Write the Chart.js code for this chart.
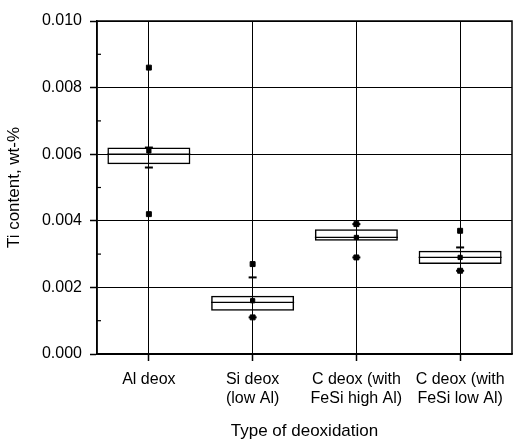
<!DOCTYPE html>
<html>
<head>
<meta charset="utf-8">
<script src="https://cdn.jsdelivr.net/npm/chart.js@4"></script>
<style>
  html, body { margin: 0; padding: 0; background: #fff; }
  #wrap { width: 516px; height: 443px; }
</style>
</head>
<body>
<div id="wrap"><canvas id="box_chart"></canvas></div>
<script>
const labels = ['Al deox', ['Si deox', '(low Al)'], ['C deox (with', 'FeSi high Al)'], ['C deox (with', 'FeSi low Al)']];
const q1 = [0.0057, 0.0013, 0.0034, 0.0027];
const q3 = [0.0062, 0.00175, 0.00375, 0.0031];
const median = [0.0060, 0.00155, 0.0035, 0.0029];
const mean = [0.0061, 0.0016, 0.0035, 0.0029];
const whiskerHigh = [0.0062, 0.0023, 0.0039, 0.0032];
const whiskerLow = [0.0056, 0.0011, 0.0029, 0.0025];
const maxVal = [0.0086, 0.0027, 0.0039, 0.0037];
const minVal = [0.0042, 0.0011, 0.0029, 0.0025];
const yTicks = [0, 0.002, 0.004, 0.006, 0.008, 0.010];
const yMinorTicks = [0.001, 0.003, 0.005, 0.007, 0.009];

Chart.defaults.font.family = "'Liberation Sans', Arial, sans-serif";
Chart.defaults.color = '#000';

const ctx = document.getElementById('box_chart');

// frame round the plot and the short inward minor ticks on the y axis
const framePlugin = {
    id: 'frame',
    afterDraw(chart) {
        const c = chart.ctx;
        const a = chart.chartArea;
        const y = chart.scales.y;
        c.save();
        c.strokeStyle = '#000';
        c.lineWidth = 1.5;
        c.strokeRect(a.left, a.top, a.right - a.left, a.bottom - a.top);
        c.lineWidth = 1.2;
        yMinorTicks.forEach(v => {
            const py = y.getPixelForValue(v);
            c.beginPath();
            c.moveTo(a.left, py);
            c.lineTo(a.left + 4, py);
            c.stroke();
        });
        c.restore();
    }
};

const pointSet = (label, values, style, radius, width) => ({
    type: 'line',
    label: label,
    data: values,
    showLine: false,
    pointStyle: style,
    pointRadius: radius,
    pointHoverRadius: radius,
    pointBackgroundColor: '#000',
    pointBorderColor: '#000',
    pointBorderWidth: width
});

const data = {
    labels: labels,
    datasets: [
        {
            type: 'bar',
            label: 'Box',
            data: q1.map((v, i) => [v, q3[i]]),
            backgroundColor: 'rgba(255,255,255,0)',
            borderColor: '#000',
            borderWidth: 1.5,
            borderSkipped: false,
            barPercentage: 0.8,
            categoryPercentage: 1.0
        },
        pointSet('Median', median, 'line', 41.5, 1.2),
        pointSet('Mean', mean, 'rect', 3, 1),
        pointSet('Upper whisker', whiskerHigh, 'line', 4, 2),
        pointSet('Lower whisker', whiskerLow, 'line', 4, 2),
        pointSet('Max', maxVal, 'rect', 3.5, 1),
        pointSet('Min', minVal, 'rect', 3.5, 1)
    ]
};

const config = {
    type: 'bar',
    data: data,
    plugins: [framePlugin],
    options: {
        responsive: true,
        maintainAspectRatio: false,
        animation: false,
        layout: { autoPadding: false, padding: { top: 21, right: 4, left: 0, bottom: 0 } },
        plugins: {
            legend: { display: false },
            tooltip: { enabled: false }
        },
        scales: {
            x: {
                offset: true,
                grid: {
                    offset: false,
                    color: '#000',
                    lineWidth: 1,
                    tickLength: 7,
                    tickWidth: 1.5
                },
                border: { color: '#000', width: 1.5 },
                ticks: {
                    font: { size: 16 },
                    padding: 9,
                    maxRotation: 0,
                    autoSkip: false
                },
                title: {
                    display: true,
                    text: 'Type of deoxidation',
                    font: { size: 17 },
                    padding: { top: 0, bottom: 1 }
                },
                afterFit(scale) { scale.height = 89; }
            },
            y: {
                min: 0,
                max: 0.010,
                afterBuildTicks(scale) { scale.ticks = yTicks.map(v => ({ value: v })); },
                grid: {
                    color: '#000',
                    lineWidth: 1,
                    tickLength: 7,
                    tickWidth: 1.5
                },
                border: { color: '#000', width: 1.5 },
                ticks: {
                    font: { size: 16 },
                    padding: 8,
                    callback: v => v.toFixed(3)
                },
                title: {
                    display: true,
                    text: 'Ti content, wt-%',
                    font: { size: 17 },
                    padding: { top: 4, bottom: 0 }
                },
                afterFit(scale) { scale.width = 97; }
            }
        }
    }
};
new Chart(ctx, config);
</script>
</body>
</html>
